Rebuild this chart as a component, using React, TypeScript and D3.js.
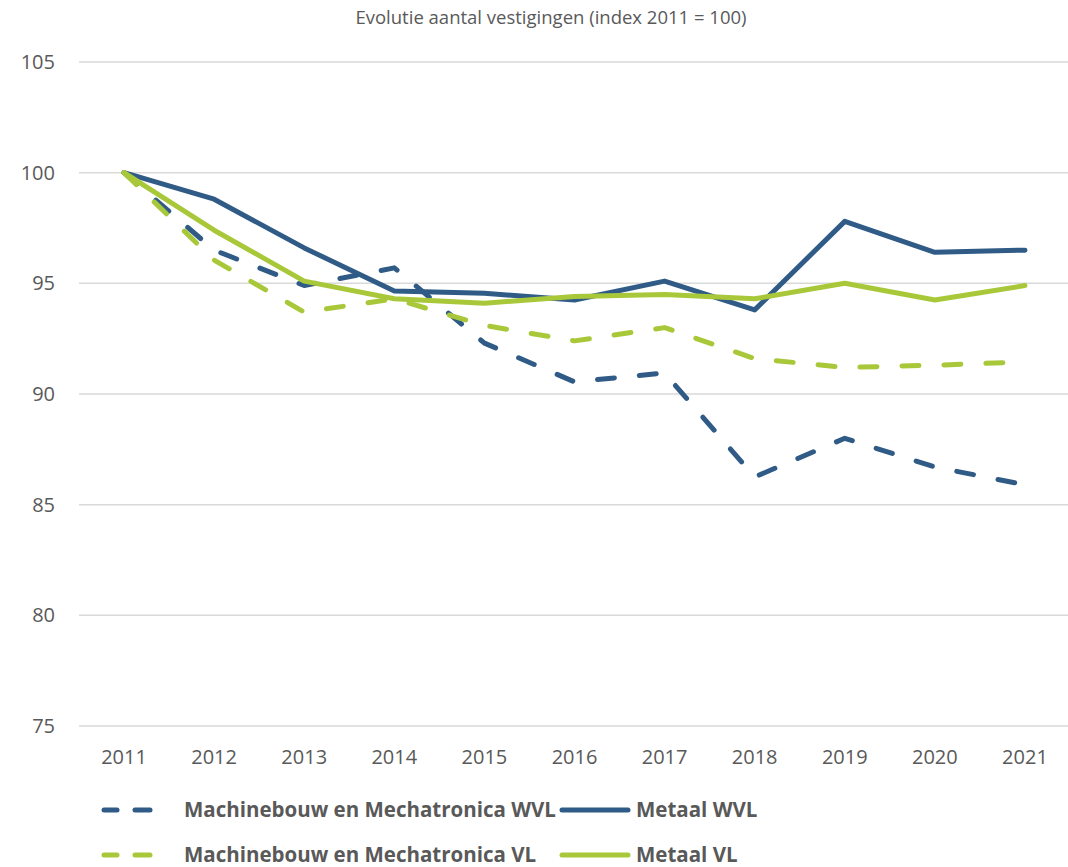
import * as d3 from "d3";

const years = ["2011", "2012", "2013", "2014", "2015", "2016", "2017", "2018", "2019", "2020", "2021"];
const machWVL = [100, 96.5, 94.9, 95.7, 92.3, 90.55, 90.95, 86.25, 88.0, 86.7, 85.9];
const metaalWVL = [100, 98.8, 96.6, 94.65, 94.55, 94.25, 95.1, 93.8, 97.8, 96.4, 96.5];
const machVL = [100, 96.05, 93.7, 94.3, 93.1, 92.4, 93.0, 91.6, 91.2, 91.3, 91.45];
const metaalVL = [100, 97.4, 95.1, 94.3, 94.1, 94.4, 94.5, 94.3, 95.0, 94.25, 94.9];
const yTicks = [75, 80, 85, 90, 95, 100, 105];

const BLUE = "#2f5b86";
const GREEN = "#a8c83a";
const TEXT = "#595959";
const FONT = "'Open Sans', sans-serif";

const series = [
  { name: "Machinebouw en Mechatronica WVL", values: machWVL, color: BLUE, dashed: true },
  { name: "Metaal WVL", values: metaalWVL, color: BLUE, dashed: false },
  { name: "Machinebouw en Mechatronica VL", values: machVL, color: GREEN, dashed: true },
  { name: "Metaal VL", values: metaalVL, color: GREEN, dashed: false },
];

export default function App() {
  const W = 1068, H = 867;
  const x = d3.scaleBand().domain(years).range([79, 1070]);
  const y = d3.scaleLinear().domain([75, 105]).range([726, 62]);
  const cx = (yr: string) => (x(yr) ?? 0) + x.bandwidth() / 2;

  const line = d3.line<number>()
    .x((_, i) => cx(years[i]))
    .y(v => y(v));

  const legendPos = [
    { x: 104, y: 810 },
    { x: 560, y: 810 },
    { x: 104, y: 855 },
    { x: 560, y: 855 },
  ];

  return (
    <svg width={W} height={H} style={{ position: "absolute", left: 0, top: 0, background: "#fff" }}>
      <text x={551} y={24} textAnchor="middle" fontFamily={FONT} fontSize={18.5} fill={TEXT}>
        Evolutie aantal vestigingen (index 2011 = 100)
      </text>

      {yTicks.map(t => (
        <g key={t}>
          <line x1={79} x2={1068} y1={y(t)} y2={y(t)} stroke="#d9d9d9" strokeWidth={1.5} />
          <text x={55} y={y(t)} dy="0.35em" textAnchor="end" fontFamily={FONT} fontSize={20} fill={TEXT}>
            {t}
          </text>
        </g>
      ))}

      {years.map(yr => (
        <text key={yr} x={cx(yr)} y={757} dy="0.35em" textAnchor="middle" fontFamily={FONT} fontSize={20} fill={TEXT}>
          {yr}
        </text>
      ))}

      {series.map(s => (
        <path
          key={s.name}
          d={line(s.values) ?? ""}
          fill="none"
          stroke={s.color}
          strokeWidth={5}
          strokeLinejoin="round"
          strokeLinecap="round"
          strokeDasharray={s.dashed ? "17 25" : undefined}
        />
      ))}

      {series.map((s, i) => {
        const p = legendPos[i];
        return (
          <g key={s.name} transform={`translate(${p.x},${p.y})`}>
            {s.dashed ? (
              <>
                <line x1={0} x2={13} y1={0} y2={0} stroke={s.color} strokeWidth={5} strokeLinecap="round" />
                <line x1={31} x2={46} y1={0} y2={0} stroke={s.color} strokeWidth={5} strokeLinecap="round" />
              </>
            ) : (
              <line x1={2} x2={68} y1={0} y2={0} stroke={s.color} strokeWidth={5} strokeLinecap="round" />
            )}
            <text x={s.dashed ? 80 : 76} y={0} dy="0.35em" fontFamily={FONT} fontSize={20.5} fontWeight="bold" fill={TEXT}>
              {s.name}
            </text>
          </g>
        );
      })}
    </svg>
  );
}
